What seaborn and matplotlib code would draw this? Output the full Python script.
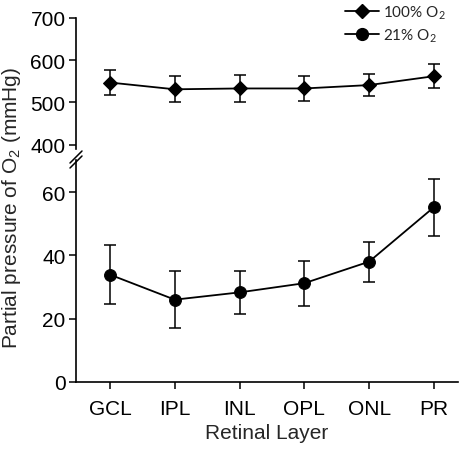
import numpy as np
import pandas as pd
import seaborn as sns
import matplotlib.pyplot as plt
from matplotlib.lines import Line2D

sns.set_theme(style="ticks")
plt.rcParams['font.family'] = ['Liberation Sans', 'DejaVu Sans']
plt.rcParams['mathtext.default'] = 'regular'

layers = ['GCL', 'IPL', 'INL', 'OPL', 'ONL', 'PR']
po2_100 = [547, 531, 533, 533, 541, 562]
err_100 = [30, 31, 32, 29, 27, 29]
po2_21 = [33.9, 26.0, 28.3, 31.2, 38.0, 55.2]
err_21 = [9.3, 9.0, 6.8, 7.1, 6.3, 9.0]

df100 = pd.DataFrame({'layer': layers, 'x': range(len(layers)), 'po2': po2_100, 'err': err_100})
df21 = pd.DataFrame({'layer': layers, 'x': range(len(layers)), 'po2': po2_21, 'err': err_21})

fs = 15

fig = plt.figure(figsize=(4.62, 4.52), dpi=100)
left, right = 0.1645, 0.991
ax_top = fig.add_axes([left, 0.6686, right - left, 0.958 - 0.6686])
ax_bot = fig.add_axes([left, 0.1527, right - left, 0.643 - 0.1527])

# top panel: 100% O2
ax_top.errorbar(df100['x'], df100['po2'], yerr=df100['err'], fmt='none',
                ecolor='black', elinewidth=1.1, capsize=4, capthick=1.1, zorder=2)
sns.lineplot(data=df100, x='x', y='po2', ax=ax_top, color='black', lw=1.3,
             marker='D', markersize=7, markeredgecolor='black', zorder=3)

# bottom panel: 21% O2
ax_bot.errorbar(df21['x'], df21['po2'], yerr=df21['err'], fmt='none',
                ecolor='black', elinewidth=1.1, capsize=4, capthick=1.1, zorder=2)
sns.lineplot(data=df21, x='x', y='po2', ax=ax_bot, color='black', lw=1.3,
             marker='o', markersize=8.5, markeredgecolor='black', zorder=3)

xlim = (-0.525, 5.37)
for ax in (ax_top, ax_bot):
    ax.set_xlim(*xlim)
    ax.set_xlabel('')
    ax.set_ylabel('')
    ax.spines['top'].set_visible(False)
    ax.spines['right'].set_visible(False)
    for s in ax.spines.values():
        s.set_linewidth(1.2)
        s.set_color('black')
    ax.tick_params(axis='both', direction='out', length=5, width=1.1,
                   color='black', labelsize=fs, labelcolor='black', pad=2.5)

ax_top.set_ylim(390, 700)
ax_top.set_yticks([400, 500, 600, 700])
ax_top.spines['bottom'].set_visible(False)
ax_top.tick_params(axis='x', bottom=False, labelbottom=False)

ax_bot.set_ylim(0, 70)
ax_bot.set_yticks([0, 20, 40, 60])
ax_bot.set_xticks(range(len(layers)))
ax_bot.set_xticklabels(layers)
ax_bot.tick_params(axis='x', pad=7.5)
ax_bot.set_xlabel('Retinal Layer', fontsize=fs, labelpad=3.5)

fig.text(0.024, 0.54, 'Partial pressure of O$_2$ (mmHg)', rotation=90,
         ha='center', va='center', fontsize=fs)

# axis break marks
bx = left * 462
for dy in (0, 5):
    y0 = 452 - 163 + dy
    fig.add_artist(Line2D([(bx - 6) / 462, (bx + 6) / 462],
                          [(y0 - 6) / 452, (y0 + 6) / 452],
                          color='black', lw=1.1, transform=fig.transFigure))

handles = [Line2D([], [], color='black', lw=1.3, marker='D', markersize=7),
           Line2D([], [], color='black', lw=1.3, marker='o', markersize=8.5)]
fig.legend(handles, ['100% O$_2$', '21% O$_2$'], loc='upper right',
           bbox_to_anchor=(0.995, 1.02), frameon=False,
           handlelength=2.2, handletextpad=0.3, labelspacing=0.35,
           prop={'family': ['Lato', 'DejaVu Sans'], 'size': 11})

fig.savefig('out.png', dpi=100)
